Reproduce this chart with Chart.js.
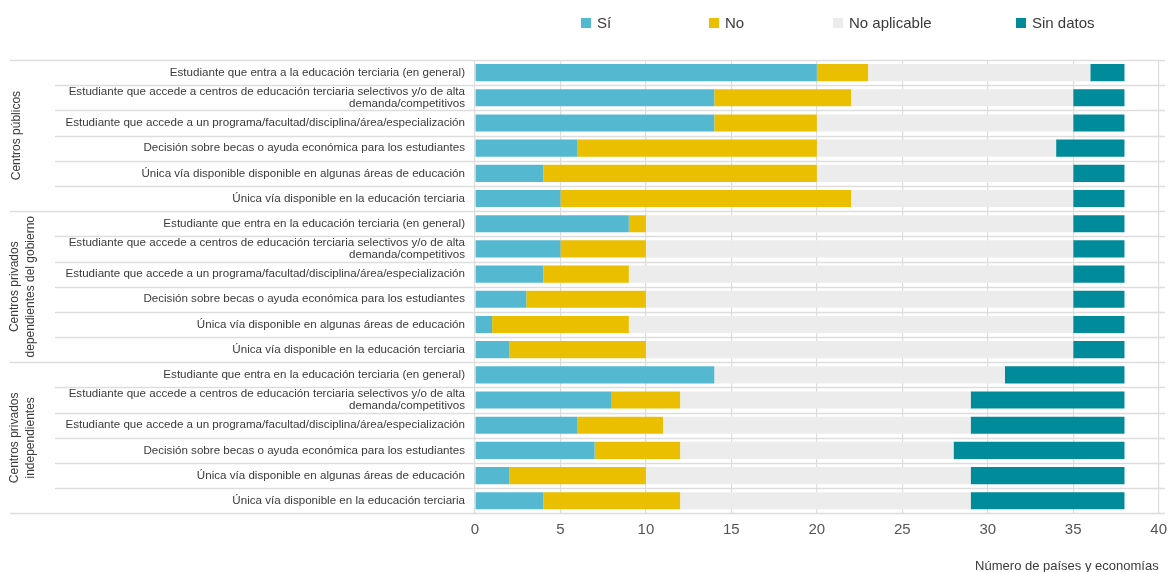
<!DOCTYPE html>
<html>
<head>
<meta charset="utf-8">
<script src="https://cdn.jsdelivr.net/npm/chart.js@4/dist/chart.umd.min.js"></script>
<style>
  html, body { margin: 0; padding: 0; background: #fff; overflow: hidden; }
  #wrap { position: relative; width: 1174px; height: 574px; }
  #legend { position: absolute; top: 0; left: 0; width: 100%; height: 50px; }
  .item { position: absolute; top: 14px; display: flex; align-items: center;
          font-family: 'Liberation Sans', Arial, sans-serif;
          font-size: 15px; color: #3a3a3a; }
  .box { width: 10px; height: 10px; margin-right: 6px; }
</style>
</head>
<body>
<div id="wrap">
  <canvas id="chart" width="1174" height="574"></canvas>
  <div id="legend"></div>
</div>
<script>
const FONT = "'Liberation Sans', Arial, sans-serif";

// categories (top to bottom)
const categories = [
  "Estudiante que entra a la educación terciaria (en general)",
  ["Estudiante que accede a centros de educación terciaria selectivos y/o de alta", "demanda/competitivos"],
  "Estudiante que accede a un programa/facultad/disciplina/área/especialización",
  "Decisión sobre becas o ayuda económica para los estudiantes",
  "Única vía disponible disponible en algunas áreas de educación",
  "Única vía disponible en la educación terciaria",
  "Estudiante que entra en la educación terciaria (en general)",
  ["Estudiante que accede a centros de educación terciaria selectivos y/o de alta", "demanda/competitivos"],
  "Estudiante que accede a un programa/facultad/disciplina/área/especialización",
  "Decisión sobre becas o ayuda económica para los estudiantes",
  "Única vía disponible en algunas áreas de educación",
  "Única vía disponible en la educación terciaria",
  "Estudiante que entra en la educación terciaria (en general)",
  ["Estudiante que accede a centros de educación terciaria selectivos y/o de alta", "demanda/competitivos"],
  "Estudiante que accede a un programa/facultad/disciplina/área/especialización",
  "Decisión sobre becas o ayuda económica para los estudiantes",
  "Única vía disponible en algunas áreas de educación",
  "Única vía disponible en la educación terciaria"
];

const groupNames = [
  ["Centros públicos"],
  ["Centros privados", "dependientes del gobierno"],
  ["Centros privados", "independientes"]
];
const groupSizes = [6, 6, 6];

const seriesNames = ["Sí", "No", "No aplicable", "Sin datos"];
const seriesColors = ["#55b8d1", "#e9bf00", "#ececec", "#008b9a"];

const si          = [20, 14, 14, 6, 4, 5,   9, 5, 4, 3, 1, 2,   14, 8, 6, 7, 2, 4];
const no          = [3, 8, 6, 14, 16, 17,   1, 5, 5, 7, 8, 8,   0, 4, 5, 5, 8, 8];
const noAplicable = [13, 13, 15, 14, 15, 13, 25, 25, 26, 25, 26, 25, 17, 17, 18, 16, 19, 17];
const sinDatos    = [2, 3, 3, 4, 3, 3,     3, 3, 3, 3, 3, 3,   7, 9, 9, 10, 9, 9];

const xTicks = [0, 5, 10, 15, 20, 25, 30, 35, 40];

// html legend
const legendX = [581, 709, 833, 1016];
const legend = document.getElementById("legend");
seriesNames.forEach((name, i) => {
  const it = document.createElement("div");
  it.className = "item";
  it.style.left = legendX[i] + "px";
  it.innerHTML = '<span class="box" style="background:' + seriesColors[i] + '"></span>' + name;
  legend.appendChild(it);
});

// row separators + group labels
const rowLines = {
  id: "rowLines",
  beforeDatasetsDraw(chart) {
    const ctx = chart.ctx;
    const y = chart.scales.y;
    const bounds = [0];
    groupSizes.reduce((acc, n) => { bounds.push(acc + n); return acc + n; }, 0);
    ctx.save();
    ctx.strokeStyle = "#dddddd";
    ctx.lineWidth = 1.5;
    for (let i = 0; i <= categories.length; i++) {
      const py = Math.round(y.getPixelForValue(i - 0.5)) + 0.5;
      const x0 = bounds.includes(i) ? 10 : 55;
      ctx.beginPath();
      ctx.moveTo(x0, py);
      ctx.lineTo(1165, py);
      ctx.stroke();
    }
    ctx.restore();
  },
  afterDraw(chart) {
    const ctx = chart.ctx;
    const y = chart.scales.y;
    let start = 0;
    ctx.save();
    ctx.fillStyle = "#3a3a3a";
    ctx.font = "12px " + FONT;
    ctx.textAlign = "center";
    ctx.textBaseline = "middle";
    groupNames.forEach((lines, g) => {
      const end = start + groupSizes[g];
      const cy = (y.getPixelForValue(start - 0.5) + y.getPixelForValue(end - 0.5)) / 2;
      const xs = lines.length === 1 ? [17] : [15, 31];
      lines.forEach((txt, k) => {
        ctx.save();
        ctx.translate(xs[k], cy);
        ctx.rotate(-Math.PI / 2);
        ctx.fillText(txt, 0, 0);
        ctx.restore();
      });
      start = end;
    });
    ctx.restore();
  }
};

const seriesValues = [si, no, noAplicable, sinDatos];

new Chart(document.getElementById("chart"), {
  type: "bar",
  data: {
    labels: categories,
    datasets: seriesValues.map((vals, i) => ({
      label: seriesNames[i],
      data: vals,
      backgroundColor: seriesColors[i],
      borderWidth: 0,
      categoryPercentage: 0.68,
      barPercentage: 1
    }))
  },
  options: {
    indexAxis: "y",
    responsive: false,
    animation: false,
    events: [],
    layout: { padding: { top: 60, right: 5, left: 0, bottom: 0 } },
    plugins: {
      legend: { display: false },
      tooltip: { enabled: false }
    },
    scales: {
      x: {
        stacked: true,
        min: 0,
        max: 40,
        afterBuildTicks(scale) { scale.ticks = xTicks.map(v => ({ value: v })); },
        grid: { color: "#dddddd", lineWidth: 1.2, drawTicks: false },
        border: { display: false },
        ticks: { color: "#555", padding: 7, font: { family: FONT, size: 15 } },
        title: {
          display: true,
          text: "Número de países y economías",
          align: "end",
          color: "#3a3a3a",
          font: { family: FONT, size: 13 },
          padding: { top: 13, bottom: 0 }
        }
      },
      y: {
        stacked: true,
        afterFit(scale) { scale.width = 475; },
        grid: { display: false, drawTicks: false },
        border: { display: false },
        ticks: {
          color: "#3a3a3a",
          padding: 10,
          autoSkip: false,
          font: { family: FONT, size: 11.6, lineHeight: 1.0 }
        }
      }
    }
  },
  plugins: [rowLines]
});
</script>
</body>
</html>
